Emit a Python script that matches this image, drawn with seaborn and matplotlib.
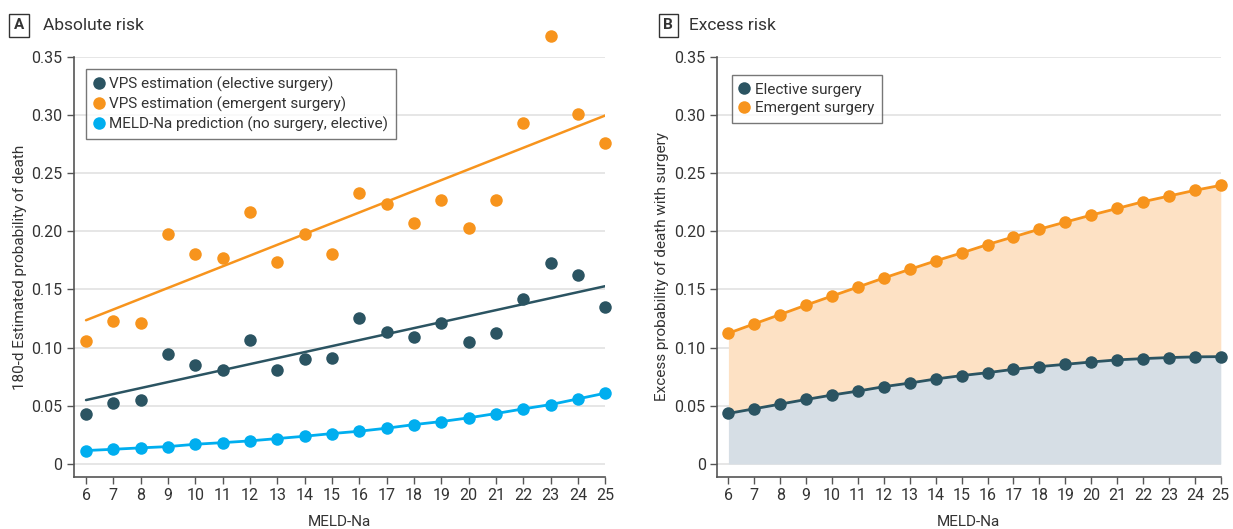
import numpy as np
import pandas as pd
import matplotlib.pyplot as plt
import seaborn as sns
from matplotlib.lines import Line2D

# --- DATA ---
meld_na = list(range(6, 26))

# Panel A: absolute 180-d risk
vps_elective = [0.043, 0.0527, 0.055, 0.0943, 0.0849, 0.0808, 0.1066, 0.0811, 0.090, 0.0912,
                0.125, 0.1132, 0.109, 0.121, 0.1047, 0.1127, 0.1416, 0.1726, 0.1623, 0.1348]
vps_emergent = [0.1058, 0.1227, 0.1207, 0.1975, 0.1803, 0.1769, 0.2167, 0.1734, 0.1978, 0.180,
                0.233, 0.2236, 0.2066, 0.227, 0.203, 0.227, 0.293, 0.3678, 0.3004, 0.2758]
meld_prediction = [0.0115, 0.0126, 0.0138, 0.0149, 0.0169, 0.0183, 0.0198, 0.0218, 0.0238, 0.0261,
                   0.0281, 0.0307, 0.0338, 0.0364, 0.0396, 0.0433, 0.0473, 0.051, 0.0559, 0.0608]

# Panel B: excess risk with surgery
excess_elective = [0.0434, 0.0474, 0.0514, 0.0554, 0.0592, 0.0626, 0.0664, 0.0695, 0.073, 0.0759,
                   0.0784, 0.0813, 0.0836, 0.0856, 0.0876, 0.0894, 0.0905, 0.0914, 0.092, 0.0922]
excess_emergent = [0.1123, 0.1204, 0.1284, 0.1365, 0.1443, 0.152, 0.1598, 0.1672, 0.1745, 0.1813,
                   0.1885, 0.1951, 0.2017, 0.2078, 0.2138, 0.2195, 0.2253, 0.2302, 0.2351, 0.2394]

y_ticks = [0, 0.05, 0.10, 0.15, 0.20, 0.25, 0.30, 0.35]
y_tick_labels = ["0", "0.05", "0.10", "0.15", "0.20", "0.25", "0.30", "0.35"]

legend_a = ["VPS estimation (elective surgery)", "VPS estimation (emergent surgery)",
            "MELD-Na prediction (no surgery, elective)"]
legend_b = ["Elective surgery", "Emergent surgery"]

# --- STYLE ---
DARK = "#2b5462"
ORANGE = "#f7941d"
CYAN = "#00aeef"
FILL_DARK = "#d6dee5"
FILL_ORANGE = "#fde1c4"
TEXT = "#333333"
SPINE = "#555555"
FS = 11

sns.set_theme(style="ticks")
plt.rcParams['font.family'] = ['Roboto', 'DejaVu Sans']

df = pd.DataFrame({
    "meld": meld_na,
    "vps_elective": vps_elective,
    "vps_emergent": vps_emergent,
    "meld_pred": meld_prediction,
    "excess_elective": excess_elective,
    "excess_emergent": excess_emergent,
})

fig = plt.figure(figsize=(12.33, 5.29), dpi=100)
axA = fig.add_axes([0.0598, 0.0977, 0.4311, 0.7953])
axB = fig.add_axes([0.5813, 0.0977, 0.4088, 0.7953])

MS = 9
dot_kws = dict(s=MS ** 2, linewidths=0, alpha=1, clip_on=False, zorder=4)


def style_axis(ax, ylabel, pad):
    ax.set_xlim(5.55, 25)
    ax.set_ylim(-0.0115, 0.35)
    ax.set_xticks(meld_na)
    ax.set_yticks(y_ticks)
    ax.set_yticklabels(y_tick_labels)
    ax.yaxis.grid(True, color="#e4e4e4", lw=1.3)
    ax.set_axisbelow(True)
    sns.despine(ax=ax)
    for s in ("left", "bottom"):
        ax.spines[s].set_color(SPINE)
        ax.spines[s].set_linewidth(1.2)
    ax.tick_params(direction="out", length=5, width=1, color=SPINE,
                   labelsize=FS + 0.5, labelcolor=TEXT, pad=3)
    ax.set_xlabel("MELD-Na", fontsize=FS, color=TEXT, labelpad=8)
    ax.set_ylabel(ylabel, fontsize=FS, color=TEXT, labelpad=pad)


# --- PANEL A ---
sns.regplot(data=df, x="meld", y="vps_emergent", ax=axA, ci=None, color=ORANGE,
            scatter_kws=dot_kws, line_kws=dict(lw=1.8, zorder=3))
sns.regplot(data=df, x="meld", y="vps_elective", ax=axA, ci=None, color=DARK,
            scatter_kws=dot_kws, line_kws=dict(lw=1.8, zorder=3))
sns.lineplot(data=df, x="meld", y="meld_pred", ax=axA, color=CYAN, lw=2,
             marker="o", markersize=MS, markeredgewidth=0, clip_on=False, zorder=4)
style_axis(axA, "180-d Estimated probability of death", 3)

handles_a = [Line2D([], [], ls="none", marker="o", markersize=MS, markeredgewidth=0, color=c)
             for c in (DARK, ORANGE, CYAN)]
leg = axA.legend(handles_a, legend_a, loc="upper left", bbox_to_anchor=(0.024, 0.971),
                 borderaxespad=0, fancybox=False, edgecolor=SPINE, fontsize=FS,
                 handlelength=0.6, handletextpad=0.4, labelspacing=0.3, borderpad=0.5)
leg.get_frame().set_linewidth(1)
for t in leg.get_texts():
    t.set_color(TEXT)

# --- PANEL B ---
axB.fill_between(df["meld"], 0, df["excess_elective"], color=FILL_DARK, lw=0, zorder=1)
axB.fill_between(df["meld"], df["excess_elective"], df["excess_emergent"],
                 color=FILL_ORANGE, lw=0, zorder=1)
sns.lineplot(data=df, x="meld", y="excess_emergent", ax=axB, color=ORANGE, lw=2,
             marker="o", markersize=MS, markeredgewidth=0, clip_on=False, zorder=4)
sns.lineplot(data=df, x="meld", y="excess_elective", ax=axB, color=DARK, lw=2,
             marker="o", markersize=MS, markeredgewidth=0, clip_on=False, zorder=4)
style_axis(axB, "Excess probability of death with surgery", 4)

handles_b = [Line2D([], [], ls="none", marker="o", markersize=MS, markeredgewidth=0, color=c)
             for c in (DARK, ORANGE)]
leg = axB.legend(handles_b, legend_b, loc="upper left", bbox_to_anchor=(0.030, 0.9565),
                 borderaxespad=0, fancybox=False, edgecolor=SPINE, fontsize=FS,
                 handlelength=0.6, handletextpad=0.4, labelspacing=0.3, borderpad=0.5)
leg.get_frame().set_linewidth(1)
for t in leg.get_texts():
    t.set_color(TEXT)

# --- PANEL HEADERS ---
box = dict(boxstyle="square,pad=0.3", fc="white", ec=TEXT, lw=1)
fig.text(0.0154, 0.952, "A", ha="center", va="center", fontsize=11, weight="bold",
         color=TEXT, bbox=box)
fig.text(0.0349, 0.952, "Absolute risk", ha="left", va="center", fontsize=12.5, color=TEXT)
fig.text(0.5418, 0.952, "B", ha="center", va="center", fontsize=11, weight="bold",
         color=TEXT, bbox=box)
fig.text(0.5592, 0.952, "Excess risk", ha="left", va="center", fontsize=12.5, color=TEXT)

fig.savefig("out.png", dpi=100)
